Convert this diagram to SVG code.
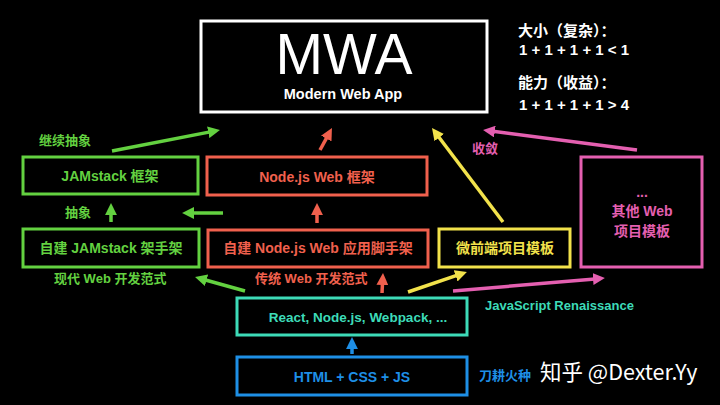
<svg xmlns="http://www.w3.org/2000/svg" width="720" height="405" viewBox="0 0 720 405">
<style>
text{font-family:"Liberation Sans","Noto Sans CJK SC",sans-serif;font-weight:bold}
.box{fill:none;stroke-width:3}
.c{text-anchor:middle;font-size:14px}
.s{font-size:13px}
.g{fill:#63d140}.gs{stroke:#63d140}
.r{fill:#f0604d}.rs{stroke:#f0604d}
.y{fill:#f2e24b}.ys{stroke:#f2e24b}
.p{fill:#e45fb0}.ps{stroke:#e45fb0}
.t{fill:#3ddbb8}.ts{stroke:#3ddbb8}
.b{fill:#1e8fe6}.bs{stroke:#1e8fe6}
.w{fill:#fff}
.a{fill:none;stroke-width:3.5}
</style>
<defs>
<marker id="mg" viewBox="0 0 12 12" refX="2" refY="6" markerWidth="3.4" markerHeight="3.4" orient="auto"><path d="M0,0 L12,6 L0,12 z" fill="#63d140"/></marker>
<marker id="mr" viewBox="0 0 12 12" refX="2" refY="6" markerWidth="3.4" markerHeight="3.4" orient="auto"><path d="M0,0 L12,6 L0,12 z" fill="#f0604d"/></marker>
<marker id="my" viewBox="0 0 12 12" refX="2" refY="6" markerWidth="3.4" markerHeight="3.4" orient="auto"><path d="M0,0 L12,6 L0,12 z" fill="#f2e24b"/></marker>
<marker id="mp" viewBox="0 0 12 12" refX="2" refY="6" markerWidth="3.4" markerHeight="3.4" orient="auto"><path d="M0,0 L12,6 L0,12 z" fill="#e45fb0"/></marker>
<marker id="mb" viewBox="0 0 12 12" refX="2" refY="6" markerWidth="3.4" markerHeight="3.4" orient="auto"><path d="M0,0 L12,6 L0,12 z" fill="#1e8fe6"/></marker>
</defs>
<rect width="720" height="405" fill="#000"/>

<g id="mwa">
<rect x="201" y="21" width="286" height="91" fill="none" stroke="#fff" stroke-width="3"/>
<text x="344" y="74" text-anchor="middle" font-size="57" style="font-weight:normal" class="w">MWA</text>
<text x="343" y="99" text-anchor="middle" font-size="14.5" class="w">Modern Web App</text>
</g>

<g id="notes">
<text x="518" y="36" class="w" font-size="15">大小（复杂）：</text>
<text x="519" y="55" class="w" font-size="15" xml:space="preserve">1 + 1 + 1 + 1 &lt; 1</text>
<text x="518" y="88" class="w" font-size="15">能力（收益）：</text>
<text x="519" y="110" class="w" font-size="15" xml:space="preserve">1 + 1 + 1 + 1 &gt; 4</text>
</g>

<g id="jamstack">
<rect x="23" y="157" width="175" height="37" class="box gs"/>
<text x="110" y="181" class="c g">JAMstack 框架</text>
</g>
<g id="jamstack-scaffold">
<rect x="23" y="229" width="176" height="38" class="box gs"/>
<text x="111" y="253" class="c g">自建 JAMstack 架手架</text>
</g>
<g id="node-framework">
<rect x="207" y="157" width="220" height="38" class="box rs"/>
<text x="317" y="182" class="c r">Node.js Web 框架</text>
</g>
<g id="node-scaffold">
<rect x="208" y="230" width="220" height="37" class="box rs"/>
<text x="318" y="253" class="c r">自建 Node.js Web 应用脚手架</text>
</g>
<g id="micro-frontend">
<rect x="439" y="229" width="131" height="38" class="box ys"/>
<text x="505" y="253" class="c y">微前端项目模板</text>
</g>
<g id="other">
<rect x="581" y="157" width="121" height="110" class="box ps"/>
<text x="642" y="197" class="c p">...</text>
<text x="642" y="216" class="c p">其他 Web</text>
<text x="642" y="236" class="c p">项目模板</text>
</g>
<g id="js">
<rect x="237" y="298" width="230" height="37" class="box ts"/>
<text x="358" y="322" class="t" text-anchor="middle" font-size="13.5">React, Node.js, Webpack, ...</text>
</g>
<g id="html">
<rect x="237" y="357" width="230" height="38" class="box bs"/>
<text x="352" y="382" class="c b">HTML + CSS + JS</text>
</g>

<g id="labels">
<text x="39" y="145" class="s g">继续抽象</text>
<text x="65" y="217" class="s g">抽象</text>
<text x="54" y="283" class="s g">现代 Web 开发范式</text>
<text x="255" y="283" class="s r">传统 Web 开发范式</text>
<text x="472" y="153" class="s p">收敛</text>
<text x="485" y="310" class="s t">JavaScript Renaissance</text>
<text x="479" y="380" class="s b">刀耕火种</text>
<text x="540" y="380" class="w" font-size="21.5" style="font-family:'Noto Sans CJK SC','Noto Sans',sans-serif;font-weight:normal">知乎 @Dexter.Yy</text>
</g>

<g id="connectors">
<path d="M112,151 L210.2,131.9" class="a gs" marker-end="url(#mg)"/>
<path d="M111,222 L111,213" class="a gs" marker-end="url(#mg)"/>
<path d="M223,213 L192,213" class="a gs" marker-end="url(#mg)"/>
<path d="M245,291 L204.6,279.7" class="a gs" marker-end="url(#mg)"/>
<path d="M320,150 L327.2,136.8" class="a rs" marker-end="url(#mr)"/>
<path d="M317,223 L317,213" class="a rs" marker-end="url(#mr)"/>
<path d="M382,293 L382.5,283" class="a rs" marker-end="url(#mr)"/>
<path d="M503,222 L438,136" class="a ys" marker-end="url(#my)"/>
<path d="M408,292 L457.5,275.2" class="a ys" marker-end="url(#my)"/>
<path d="M637,150 L492.9,131.3" class="a ps" marker-end="url(#mp)"/>
<path d="M453,291 L595,278.9" class="a ps" marker-end="url(#mp)"/>
<path d="M352,354 L352,347" class="a bs" marker-end="url(#mb)"/>
</g>
</svg>
